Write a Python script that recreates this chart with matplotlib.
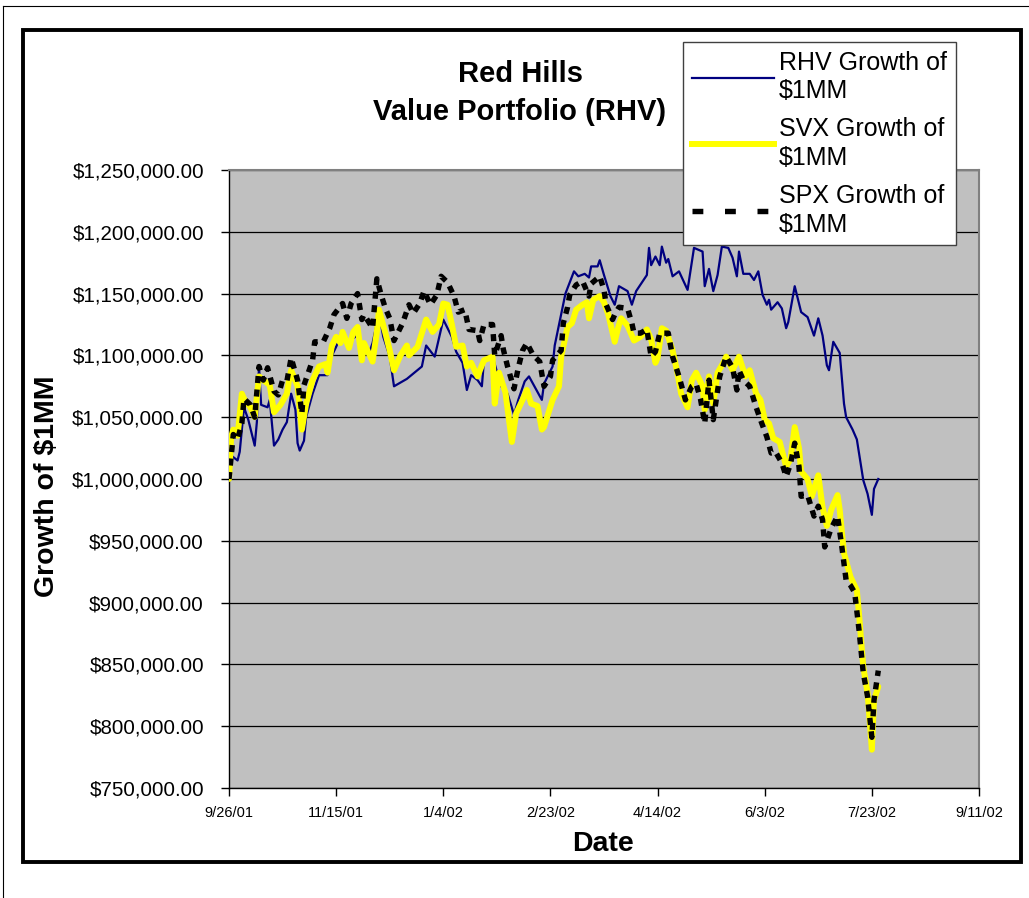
import matplotlib
matplotlib.use("Agg")
import matplotlib.pyplot as plt
from matplotlib.lines import Line2D
from matplotlib.patches import Rectangle
from matplotlib.ticker import FuncFormatter, FixedLocator

plt.rcParams['font.family'] = ['Liberation Sans', 'DejaVu Sans']

# ---------------- data ----------------
start_date = '2001-09-26'   # day 0
tick_days = [0, 50, 100, 150, 200, 250, 300, 350]
tick_labels = ['9/26/01', '11/15/01', '1/4/02', '2/23/02', '4/14/02', '6/3/02', '7/23/02', '9/11/02']

rhv_days = [0, 1, 4, 5, 7, 9, 12, 13, 14, 15,
            18, 19, 21, 23, 25, 27, 29, 31, 32, 33,
            35, 36, 39, 42, 46, 47, 50, 53, 56, 58,
            60, 63, 65, 67, 70, 72, 75, 77, 83, 90,
            92, 96, 100, 104, 106, 109, 111, 113, 116, 118,
            119, 123, 127, 130, 133, 135, 138, 140, 146, 147,
            151, 152, 157, 161, 163, 166, 168, 169, 172, 173,
            175, 178, 180, 182, 186, 188, 190, 195, 196, 197,
            199, 201, 202, 204, 205, 207, 210, 214, 217, 221,
            222, 224, 226, 228, 230, 233, 235, 237, 238, 240,
            243, 245, 247, 249, 251, 252, 253, 256, 258, 260,
            261, 264, 267, 270, 273, 275, 277, 279, 280, 282,
            285, 287, 288, 291, 293, 296, 298, 300, 301, 303]
rhv_k = [1000, 1019, 1015, 1022, 1058, 1048, 1027, 1046, 1091, 1060,
         1058, 1064, 1027, 1032, 1040, 1046, 1069, 1056, 1029, 1023,
         1031, 1050, 1069, 1084, 1084, 1096, 1107, 1119, 1107, 1114,
         1116, 1107, 1100, 1110, 1134, 1115, 1099, 1075, 1081, 1091,
         1108, 1099, 1129, 1115, 1103, 1094, 1072, 1084, 1080, 1075,
         1096, 1099, 1075, 1069, 1052, 1064, 1079, 1083, 1064, 1077,
         1091, 1108, 1150, 1168, 1164, 1166, 1163, 1172, 1172, 1177,
         1165, 1148, 1141, 1156, 1152, 1141, 1152, 1165, 1187, 1173,
         1180, 1173, 1188, 1175, 1178, 1164, 1168, 1153, 1187, 1184,
         1156, 1170, 1152, 1165, 1188, 1187, 1179, 1164, 1184, 1166,
         1166, 1161, 1168, 1149, 1141, 1145, 1137, 1143, 1138, 1122,
         1127, 1156, 1135, 1131, 1116, 1130, 1116, 1092, 1088, 1111,
         1102, 1061, 1050, 1040, 1032, 999, 988, 971, 992, 1000]

svx_days = [0, 1, 2, 4, 6, 7, 10, 12, 14, 16,
            19, 21, 24, 27, 28, 29, 32, 34, 36, 39,
            42, 45, 46, 48, 50, 52, 53, 56, 58, 60,
            62, 63, 67, 69, 70, 73, 75, 77, 80, 83,
            84, 88, 92, 95, 98, 100, 102, 104, 106, 109,
            111, 113, 116, 118, 119, 123, 124, 126, 129, 132,
            134, 137, 139, 141, 144, 146, 147, 151, 154, 155,
            158, 160, 162, 165, 167, 168, 170, 173, 175, 177,
            180, 182, 183, 186, 189, 192, 195, 197, 199, 200,
            202, 204, 207, 209, 211, 214, 216, 218, 221, 222,
            224, 226, 228, 231, 232, 235, 238, 241, 243, 246,
            248, 250, 252, 254, 257, 260, 262, 264, 266, 267,
            269, 270, 272, 275, 277, 279, 281, 284, 285, 287,
            290, 293, 294, 296, 298, 300, 301, 303]
svx_k = [1000, 1034, 1040, 1035, 1069, 1065, 1058, 1050, 1083, 1080,
         1076, 1054, 1060, 1069, 1080, 1088, 1075, 1040, 1061, 1080,
         1091, 1093, 1086, 1108, 1115, 1110, 1119, 1106, 1119, 1123,
         1096, 1110, 1095, 1119, 1137, 1118, 1104, 1088, 1100, 1108,
         1100, 1107, 1129, 1119, 1125, 1142, 1141, 1125, 1107, 1108,
         1091, 1094, 1083, 1092, 1096, 1099, 1061, 1086, 1070, 1030,
         1053, 1064, 1072, 1061, 1059, 1040, 1042, 1064, 1075, 1099,
         1123, 1126, 1137, 1141, 1143, 1130, 1145, 1148, 1143, 1133,
         1111, 1125, 1130, 1124, 1112, 1115, 1121, 1113, 1094, 1098,
         1122, 1120, 1104, 1088, 1069, 1058, 1080, 1086, 1075, 1056,
         1083, 1061, 1086, 1095, 1099, 1088, 1099, 1083, 1088, 1069,
         1064, 1048, 1045, 1033, 1030, 1010, 1016, 1042, 1025, 1006,
         1002, 1000, 986, 1003, 977, 962, 975, 987, 975, 940,
         921, 910, 891, 848, 827, 781, 821, 832]

spx_days = [0, 1, 2, 4, 6, 7, 10, 12, 14, 16,
            18, 21, 23, 25, 27, 29, 32, 34, 35, 39,
            40, 44, 47, 49, 53, 55, 57, 60, 62, 63,
            67, 69, 71, 73, 75, 77, 81, 84, 86, 89,
            91, 94, 97, 99, 102, 105, 107, 110, 112, 116,
            117, 119, 123, 124, 127, 128, 130, 133, 135, 137,
            139, 142, 145, 147, 150, 151, 155, 156, 158, 159,
            162, 165, 168, 169, 173, 175, 176, 179, 180, 182,
            186, 188, 189, 192, 195, 197, 199, 201, 205, 207,
            210, 213, 216, 218, 220, 222, 224, 226, 229, 232,
            235, 237, 238, 240, 243, 246, 248, 251, 253, 255,
            258, 260, 262, 264, 266, 267, 270, 273, 275, 277,
            278, 281, 284, 286, 288, 290, 292, 294, 296, 298,
            300, 301, 303]
spx_k = [1000, 1018, 1036, 1032, 1045, 1065, 1060, 1050, 1091, 1080,
         1090, 1071, 1068, 1080, 1079, 1098, 1080, 1053, 1076, 1096,
         1111, 1111, 1122, 1133, 1142, 1130, 1142, 1150, 1129, 1133,
         1122, 1162, 1149, 1138, 1130, 1112, 1126, 1141, 1134, 1142,
         1152, 1141, 1149, 1164, 1159, 1148, 1135, 1137, 1121, 1120,
         1112, 1125, 1125, 1100, 1116, 1105, 1091, 1073, 1090, 1104,
         1110, 1100, 1095, 1075, 1083, 1096, 1104, 1126, 1139, 1149,
         1157, 1160, 1148, 1158, 1164, 1153, 1141, 1129, 1133, 1139,
         1138, 1126, 1118, 1118, 1121, 1099, 1103, 1118, 1118, 1099,
         1083, 1064, 1075, 1077, 1065, 1045, 1080, 1048, 1083, 1099,
         1090, 1072, 1088, 1080, 1075, 1058, 1048, 1034, 1021, 1022,
         1013, 1002, 1012, 1029, 1010, 986, 987, 970, 978, 967,
         945, 960, 970, 945, 918, 914, 908, 878, 843, 824,
         791, 821, 845]

series_names = ['RHV Growth of\n$1MM', 'SVX Growth of\n$1MM', 'SPX Growth of\n$1MM']

assert len(rhv_days) == len(rhv_k)
assert len(svx_days) == len(svx_k)
assert len(spx_days) == len(spx_k)

# ---------------- figure ----------------
W, H = 1029, 898
fig = plt.figure(figsize=(W / 100, H / 100), dpi=100)
fig.patch.set_facecolor('white')

def fx(px):
    return px / W

def fy(py):
    return 1 - py / H

# thin outer border (top and left)
fig.add_artist(Line2D([fx(3), 1.0], [fy(6), fy(6)], color='black', lw=0.8))
fig.add_artist(Line2D([fx(3), fx(3)], [fy(6), 0.0], color='black', lw=0.8))
# thick chart frame
fig.add_artist(Rectangle((fx(23), fy(862)), fx(1021) - fx(23), fy(30) - fy(862),
                         transform=fig.transFigure, fill=False, edgecolor='black', lw=2.8))

ax = fig.add_axes([fx(229), fy(788), fx(979) - fx(229), fy(170) - fy(788)])
ax.set_facecolor('#C0C0C0')

ax.plot(rhv_days, [v * 1000 for v in rhv_k], color='#000080', lw=1.6, zorder=3)
ax.plot(svx_days, [v * 1000 for v in svx_k], color='#FFFF00', lw=4.3, zorder=4,
        solid_joinstyle='round', solid_capstyle='round')
ax.plot(spx_days, [v * 1000 for v in spx_k], color='black', lw=3.9, zorder=5,
        linestyle=(0, (1.3, 1.2)), dash_capstyle='butt')

ax.set_xlim(tick_days[0], tick_days[-1])
ax.set_ylim(750000, 1250000)
ax.set_yticks(range(750000, 1250001, 50000))
ax.yaxis.set_major_formatter(FuncFormatter(lambda v, p: '${:,.2f}'.format(v)))
ax.xaxis.set_major_locator(FixedLocator(tick_days))
ax.set_xticklabels(tick_labels)

ax.grid(axis='y', color='black', lw=0.9, zorder=1)
ax.set_axisbelow(True)

for side in ['top', 'right']:
    ax.spines[side].set_color('#808080')
    ax.spines[side].set_linewidth(1.5)
for side in ['left', 'bottom']:
    ax.spines[side].set_color('black')
    ax.spines[side].set_linewidth(1.0)

ax.tick_params(axis='y', direction='out', length=6, width=1, pad=12, labelsize=14.8)
ax.tick_params(axis='x', direction='out', length=6, width=1, pad=7, labelsize=10.5)

ax.set_ylabel('Growth of $1MM', fontsize=20.5, fontweight='bold')
ax.yaxis.label.set_va('center')
ax.yaxis.set_label_coords((47 - 229) / 750, (788 - 486) / 618)
ax.set_xlabel('Date', fontsize=20.5, fontweight='bold')
ax.xaxis.label.set_va('center')
ax.xaxis.set_label_coords((603 - 229) / 750, (788 - 844) / 618)

fig.text(fx(520), fy(93), 'Red Hills\nValue Portfolio (RHV)', ha='center', va='center',
         fontsize=21, fontweight='bold', linespacing=1.45)

handles = [
    Line2D([], [], color='#000080', lw=1.6),
    Line2D([], [], color='#FFFF00', lw=4.3),
    Line2D([], [], color='black', lw=3.9, linestyle=(0, (2.0, 4.0))),
]
leg = fig.legend(handles, series_names, loc='upper left',
                 bbox_to_anchor=(fx(683), fy(42)), bbox_transform=fig.transFigure,
                 fontsize=18, frameon=True, fancybox=False, framealpha=1,
                 edgecolor='#404040', handlelength=3.3, handletextpad=0.2,
                 labelspacing=0.55, borderpad=0.35, borderaxespad=0)
leg.get_frame().set_linewidth(1.0)
for t in leg.get_texts():
    t.set_linespacing(1.25)

fig.savefig('out.png', dpi=100)
